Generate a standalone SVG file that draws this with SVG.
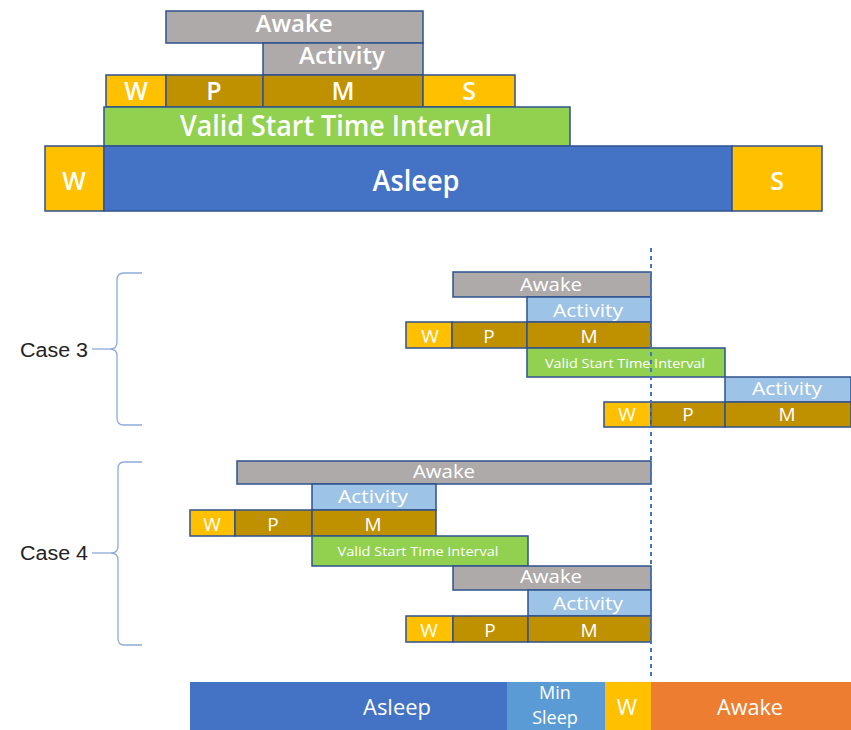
<svg xmlns="http://www.w3.org/2000/svg" width="851" height="730" viewBox="0 0 851 730">
  <defs>
    <style>
      .box { stroke: #2F528F; stroke-width: 1.5; }
      .flat { stroke: none; }
      .gray { fill: #AEAAAA; }
      .gold { fill: #FFC000; }
      .dgold { fill: #BF9000; }
      .green { fill: #92D050; }
      .blue { fill: #4472C4; }
      .lblue { fill: #9DC3E6; }
      .mblue { fill: #5B9BD5; }
      .orange { fill: #ED7D31; }
      text { font-family: "Open Sans", "Noto Sans", "Liberation Sans", sans-serif; fill: #FFFFFF; text-anchor: middle; }
      .big { font-weight: 600; }
      .t24 { font-size: 24px; }
      .t25 { font-size: 25px; }
      .t28 { font-size: 28px; }
      .t18 { font-size: 18px; }
      .t19 { font-size: 19px; }
      .t22 { font-size: 22px; }
      .t13 { font-size: 13px; }
      .label { font-family: "Liberation Sans", Arial, sans-serif; font-size: 19.5px; fill: #222222; text-anchor: start; }
      .brace { fill: none; stroke: #8FAADC; stroke-width: 1.3; }
      .marker-line { fill: none; stroke: #4472C4; stroke-width: 2; stroke-dasharray: 4 4; }
    </style>
  </defs>
  <rect width="851" height="730" fill="#FFFFFF"/>

  <!-- Overview: nested intervals over the sleep window -->
  <g id="top-awake"><rect class="box gray" x="166" y="11" width="257" height="32"/><text class="big t24" x="294" y="32">Awake</text></g>
  <g id="top-activity"><rect class="box gray" x="263" y="43" width="160" height="32"/><text class="big t24" x="342" y="64">Activity</text></g>
  <g id="top-w"><rect class="box gold" x="106" y="75" width="60" height="32"/><text class="big t25" x="136" y="100">W</text></g>
  <g id="top-p"><rect class="box dgold" x="166" y="75" width="97" height="32"/><text class="big t25" x="214" y="100">P</text></g>
  <g id="top-m"><rect class="box dgold" x="263" y="75" width="160" height="32"/><text class="big t25" x="343" y="100">M</text></g>
  <g id="top-s"><rect class="box gold" x="423" y="75" width="92" height="32"/><text class="big t25" x="469" y="100">S</text></g>
  <g id="top-valid"><rect class="box green" x="104" y="107" width="466" height="39"/><text class="big t28" x="336" y="136" textLength="312" lengthAdjust="spacingAndGlyphs">Valid Start Time Interval</text></g>
  <g id="top-asleep-w"><rect class="box gold" x="45" y="146" width="59" height="65"/><text class="big t25" x="74" y="190">W</text></g>
  <g id="top-asleep"><rect class="box blue" x="104" y="146" width="628" height="65"/><text class="big t28" x="416" y="191" textLength="87" lengthAdjust="spacingAndGlyphs">Asleep</text></g>
  <g id="top-asleep-s"><rect class="box gold" x="732" y="146" width="90" height="65"/><text class="big t25" x="777" y="190">S</text></g>

  <!-- Case 3 -->
  <g id="c3-awake"><rect class="box gray" x="453" y="272" width="198" height="25"/><text class="t19" x="551" y="291" textLength="62" lengthAdjust="spacingAndGlyphs">Awake</text></g>
  <g id="c3-activity"><rect class="box lblue" x="527" y="297" width="124" height="25"/><text class="t19" x="588" y="317" textLength="70" lengthAdjust="spacingAndGlyphs">Activity</text></g>
  <g id="c3-w"><rect class="box gold" x="406" y="322" width="46" height="26"/><text class="t19" x="430" y="343">W</text></g>
  <g id="c3-p"><rect class="box dgold" x="452" y="322" width="75" height="26"/><text class="t19" x="489" y="343">P</text></g>
  <g id="c3-m"><rect class="box dgold" x="527" y="322" width="124" height="26"/><text class="t19" x="589" y="343">M</text></g>
  <g id="c3-valid"><rect class="box green" x="527" y="348" width="198" height="29"/><text class="t13" x="625" y="368" textLength="160" lengthAdjust="spacingAndGlyphs">Valid Start Time Interval</text></g>
  <g id="c3-activity2"><rect class="box lblue" x="725" y="377" width="126" height="25"/><text class="t19" x="787" y="395" textLength="70" lengthAdjust="spacingAndGlyphs">Activity</text></g>
  <g id="c3-w2"><rect class="box gold" x="604" y="402" width="47" height="25"/><text class="t19" x="627" y="421">W</text></g>
  <g id="c3-p2"><rect class="box dgold" x="651" y="402" width="74" height="25"/><text class="t19" x="688" y="421">P</text></g>
  <g id="c3-m2"><rect class="box dgold" x="725" y="402" width="126" height="25"/><text class="t19" x="787" y="421">M</text></g>

  <!-- Case 4 -->
  <g id="c4-awake"><rect class="box gray" x="237" y="461" width="414" height="23"/><text class="t19" x="444" y="478" textLength="62" lengthAdjust="spacingAndGlyphs">Awake</text></g>
  <g id="c4-activity"><rect class="box lblue" x="312" y="484" width="124" height="26"/><text class="t19" x="373" y="503" textLength="70" lengthAdjust="spacingAndGlyphs">Activity</text></g>
  <g id="c4-w"><rect class="box gold" x="190" y="510" width="45" height="26"/><text class="t19" x="212" y="531">W</text></g>
  <g id="c4-p"><rect class="box dgold" x="235" y="510" width="77" height="26"/><text class="t19" x="273" y="531">P</text></g>
  <g id="c4-m"><rect class="box dgold" x="312" y="510" width="124" height="26"/><text class="t19" x="373" y="531">M</text></g>
  <g id="c4-valid"><rect class="box green" x="312" y="536" width="216" height="30"/><text class="t13" x="418" y="556" textLength="161" lengthAdjust="spacingAndGlyphs">Valid Start Time Interval</text></g>
  <g id="c4-awake2"><rect class="box gray" x="453" y="566" width="198" height="24"/><text class="t19" x="551" y="583" textLength="62" lengthAdjust="spacingAndGlyphs">Awake</text></g>
  <g id="c4-activity2"><rect class="box lblue" x="528" y="590" width="123" height="26"/><text class="t19" x="588" y="610" textLength="70" lengthAdjust="spacingAndGlyphs">Activity</text></g>
  <g id="c4-w2"><rect class="box gold" x="406" y="616" width="47" height="26"/><text class="t19" x="429" y="637">W</text></g>
  <g id="c4-p2"><rect class="box dgold" x="453" y="616" width="75" height="26"/><text class="t19" x="490" y="637">P</text></g>
  <g id="c4-m2"><rect class="box dgold" x="528" y="616" width="123" height="26"/><text class="t19" x="589" y="637">M</text></g>

  <!-- Timeline bar -->
  <g id="bar-asleep"><rect class="flat blue" x="190" y="682" width="317" height="50"/><text class="t22" x="397" y="715" textLength="68" lengthAdjust="spacingAndGlyphs">Asleep</text></g>
  <g id="bar-minsleep"><rect class="flat mblue" x="507" y="682" width="98" height="50"/><text class="t18" x="555" y="699">Min</text><text class="t18" x="555" y="724">Sleep</text></g>
  <g id="bar-w"><rect class="flat gold" x="605" y="682" width="46" height="50"/><text class="t22" x="627" y="715">W</text></g>
  <g id="bar-awake"><rect class="flat orange" x="651" y="682" width="200" height="50"/><text class="t22" x="750" y="715" textLength="66" lengthAdjust="spacingAndGlyphs">Awake</text></g>

  <!-- Case labels -->
  <g id="label-case3"><text class="label" x="20" y="357" textLength="68" lengthAdjust="spacingAndGlyphs">Case 3</text></g>
  <g id="label-case4"><text class="label" x="20" y="560" textLength="68" lengthAdjust="spacingAndGlyphs">Case 4</text></g>

  <g id="connectors">
    <!-- reference time marker -->
    <line class="marker-line" x1="651" y1="248" x2="651" y2="676"/>
    <!-- braces grouping each case -->
    <path class="brace" d="M142,273 L124,273 Q117,273 117,280 L117,342 Q117,349 110,349 Q117,349 117,356 L117,418 Q117,425 124,425 L142,425"/>
    <line class="brace" x1="92" y1="349" x2="110" y2="349"/>
    <path class="brace" d="M142,462 L124,462 Q118,462 118,469 L118,546 Q118,553 111,553 Q118,553 118,560 L118,638 Q118,645 124,645 L142,645"/>
    <line class="brace" x1="92" y1="553" x2="111" y2="553"/>
  </g>
</svg>
